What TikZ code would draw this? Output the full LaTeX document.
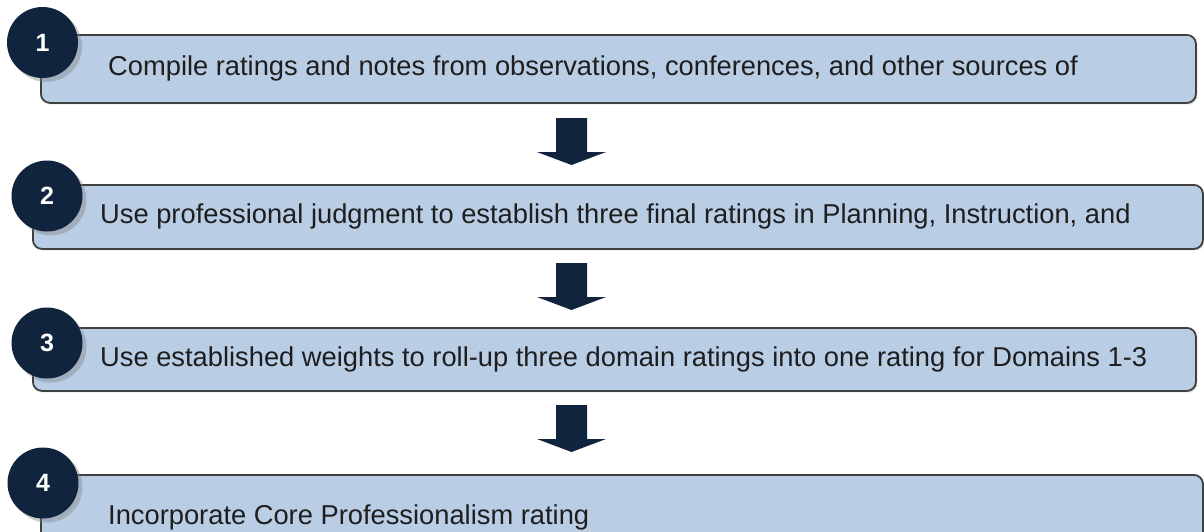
\documentclass[tikz,border=0pt]{standalone}
\usepackage{fontspec}
\setmainfont{Liberation Sans}
\usetikzlibrary{positioning,shadows}
\definecolor{boxblue}{HTML}{B9CDE5}
\definecolor{boxline}{HTML}{404040}
\definecolor{navy}{HTML}{10243E}
\definecolor{txt}{HTML}{1E1E1E}
\tikzset{
  stepbox/.style={draw=boxline, line width=1.8pt, fill=boxblue, rounded corners=9pt, anchor=north west, inner sep=0pt,
    drop shadow={opacity=0.3, shadow xshift=1.5pt, shadow yshift=-1.5pt}},
  steptext/.style={anchor=west, inner sep=0pt, text=txt, font=\fontsize{27.3}{32}\selectfont},
  stepnum/.style={circle, fill=navy, minimum size=71pt, inner sep=0pt, text=white, font=\fontsize{25}{30}\selectfont\bfseries,
    drop shadow={opacity=0.4, shadow xshift=4pt, shadow yshift=-4pt}},
  downarrow/.style={fill=navy}
}
\begin{document}
\begin{tikzpicture}[x=1pt,y=-1pt]
	\useasboundingbox (0,0) rectangle (1204,531);
	% step boxes
	\node[stepbox, minimum width=1155pt, minimum height=68pt] (s1) at (40,34) {};
	\node[stepbox, minimum width=1170pt, minimum height=64pt] (s2) at (32,184) {};
	\node[stepbox, minimum width=1163pt, minimum height=63pt] (s3) at (32,327) {};
	\node[stepbox, minimum width=1162pt, minimum height=86pt] (s4) at (40,474) {};

	\node[steptext] (t1) at ([xshift=68pt]s1.west) {Compile ratings and notes from observations, conferences, and other sources of};
	\node[steptext] (t2) at ([xshift=68pt]s2.west) {Use professional judgment to establish three final ratings in Planning, Instruction, and};
	\node[steptext] (t3) at ([xshift=68pt]s3.west) {Use established weights to roll-up three domain ratings into one rating for Domains 1-3};
	\node[steptext] (t4) at ([xshift=68pt]s4.west) {Incorporate Core Professionalism rating};

	% numbers
	\node[stepnum] (n1) at (42.5,42.5) {1};
	\node[stepnum] (n2) at (47,196) {2};
	\node[stepnum] (n3) at (47,343) {3};
	\node[stepnum] (n4) at (43,483) {4};

	% arrows between the steps
	\foreach \t in {118,263,405}
		\fill[downarrow] (556,\t) -- (587,\t) -- (587,\t+34) -- (606,\t+34) -- (571.5,\t+47) -- (537,\t+34) -- (556,\t+34) -- cycle;
\end{tikzpicture}
\end{document}
